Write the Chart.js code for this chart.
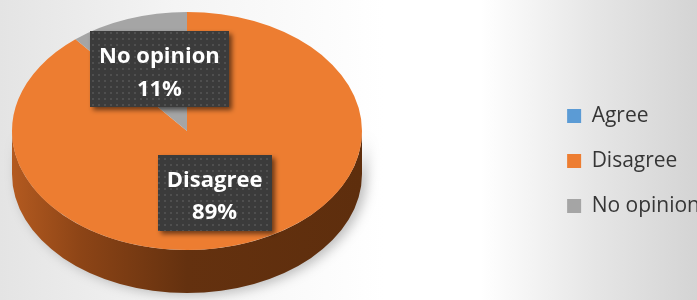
<!DOCTYPE html>
<html>
<head>
<meta charset="utf-8">
<script src="https://cdn.jsdelivr.net/npm/chart.js@4.4.1/dist/chart.umd.min.js"></script>
<style>
  html, body { margin: 0; padding: 0; }
  body {
    width: 697px; height: 300px; overflow: hidden;
    background: linear-gradient(90deg, #e4e4e4 0%, #f4f4f4 25%, #ffffff 55%, #ffffff 69%, #e6e6e6 85%, #d4d4d4 100%);
  }
  canvas { display: block; }
</style>
</head>
<body>
<canvas id="pieChart" width="710" height="300"></canvas>
<script>
// data
var categories = ["Agree", "Disagree", "No opinion"];
var shares = [0, 89, 11];
var sliceColors = ["#5B9BD5", "#ED7D31", "#A5A5A5"];
var sideColors = ["#2f5f8c", "#8a4315", "#6b6b6b"];

// where the flattened pie should sit
var PIE_CX = 187, PIE_CY = 131, PIE_RX = 175, PIE_RY = 119, PIE_DEPTH = 43;

function pieTransform(meta) {
  var arc = meta.data[0];
  var r = arc.outerRadius;
  return { cx: arc.x, cy: arc.y, sx: PIE_RX / r, sy: PIE_RY / r };
}

// dotted fill for the label boxes
function makeDotPattern(ctx) {
  var c = document.createElement("canvas");
  c.width = 6; c.height = 6;
  var p = c.getContext("2d");
  p.fillStyle = "#3b3b3b";
  p.fillRect(0, 0, 6, 6);
  p.fillStyle = "#4f4f4f";
  p.fillRect(2, 2, 2, 2);
  return ctx.createPattern(c, "repeat");
}

var pie3d = {
  id: "pie3d",
  beforeDatasetsDraw: function (chart) {
    var ctx = chart.ctx;
    var meta = chart.getDatasetMeta(0);
    var t = pieTransform(meta);

    // side of the pie (only the front half can be seen)
    var grad = ctx.createLinearGradient(PIE_CX - PIE_RX, 0, PIE_CX + PIE_RX, 0);
    grad.addColorStop(0, "#b35a20");
    grad.addColorStop(0.2, "#8c4416");
    grad.addColorStop(0.5, "#64310f");
    grad.addColorStop(1, "#5e2e0d");

    meta.data.forEach(function (arc, i) {
      if (!shares[i]) return;
      var a0 = Math.max(arc.startAngle, 0);
      var a1 = Math.min(arc.endAngle, Math.PI);
      if (a1 <= a0) return;
      ctx.save();
      ctx.shadowColor = "rgba(0,0,0,0.25)";
      ctx.shadowBlur = 12;
      ctx.shadowOffsetX = 5;
      ctx.shadowOffsetY = 2;
      ctx.beginPath();
      ctx.ellipse(PIE_CX, PIE_CY, PIE_RX, PIE_RY, 0, a0, a1);
      ctx.ellipse(PIE_CX, PIE_CY + PIE_DEPTH, PIE_RX, PIE_RY, 0, a1, a0, true);
      ctx.closePath();
      ctx.fillStyle = i === 1 ? grad : sideColors[i];
      ctx.fill();
      ctx.restore();
    });

    // squash the top face into an ellipse
    ctx.save();
    ctx.translate(PIE_CX, PIE_CY);
    ctx.scale(t.sx, t.sy);
    ctx.translate(-t.cx, -t.cy);
  },
  afterDatasetsDraw: function (chart) {
    var ctx = chart.ctx;
    ctx.restore();

    var meta = chart.getDatasetMeta(0);
    var t = pieTransform(meta);
    var total = shares.reduce(function (a, b) { return a + b; }, 0);
    var pattern = makeDotPattern(ctx);

    meta.data.forEach(function (arc, i) {
      if (!shares[i]) return;
      var pos = arc.tooltipPosition();
      // labels sit a bit further out vertically than the slice middle
      var x = PIE_CX + (pos.x - t.cx) * t.sx * 0.93;
      var y = PIE_CY + (pos.y - t.cy) * t.sy * 1.1;
      var line1 = categories[i];
      var line2 = Math.round(shares[i] / total * 100) + "%";

      ctx.save();
      ctx.font = "bold 22px 'Open Sans'";
      var w = Math.max(ctx.measureText(line1).width, ctx.measureText(line2).width) + 18;
      var h = 76;
      ctx.shadowColor = "rgba(0,0,0,0.55)";
      ctx.shadowBlur = 5;
      ctx.shadowOffsetX = 3;
      ctx.shadowOffsetY = 3;
      ctx.fillStyle = pattern;
      ctx.fillRect(Math.round(x - w / 2), Math.round(y - h / 2), Math.round(w), h);
      ctx.restore();

      ctx.save();
      ctx.font = "bold 22px 'Open Sans'";
      ctx.fillStyle = "#ffffff";
      ctx.textAlign = "center";
      ctx.textBaseline = "alphabetic";
      ctx.fillText(line1, x, y - 6);
      ctx.fillText(line2, x, y + 26.5);
      ctx.restore();
    });
  }
};

var pieChart = new Chart(document.getElementById("pieChart").getContext("2d"), {
  type: "pie",
  data: {
    labels: categories,
    datasets: [{
      data: shares,
      backgroundColor: sliceColors,
      borderWidth: 0
    }]
  },
  options: {
    responsive: false,
    animation: false,
    events: [],
    layout: { padding: { top: 22, right: 0 } },
    plugins: {
      tooltip: { enabled: false },
      legend: {
        position: "right",
        labels: {
          boxWidth: 14,
          boxHeight: 14,
          padding: 24,
          color: "#363636",
          font: { family: "'Open Sans'", size: 21 }
        }
      }
    }
  },
  plugins: [pie3d]
});
</script>
</body>
</html>
